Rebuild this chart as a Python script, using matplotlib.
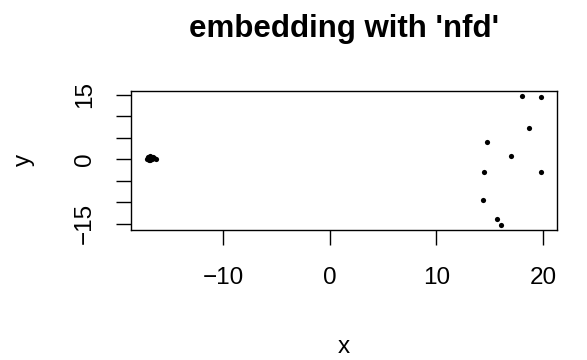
import matplotlib
matplotlib.use("Agg")
from matplotlib import pyplot as plt

# tight cluster on the left
cluster_x = [-17.2, -17.1, -17.0, -16.9, -16.8, -16.9, -16.7, -17.0, -16.6, -16.3, -16.8, -16.5, -17.1, -16.9]
cluster_y = [0.1, 0.3, 0.5, 0.4, 0.2, -0.2, 0.0, -0.1, 0.5, 0.1, 0.6, 0.3, 0.6, 0.8]

# scattered points on the right
spread_x = [18.06, 19.81, 18.69, 14.77, 17.03, 14.43, 19.78, 14.33, 15.68, 16.06]
spread_y = [14.75, 14.45, 7.35, 3.98, 0.63, -3.04, -3.04, -9.44, -13.96, -15.3]

xs = cluster_x + spread_x
ys = cluster_y + spread_y

plt.rcParams['font.family'] = ['Liberation Sans', 'DejaVu Sans']

fig = plt.figure(figsize=(5.87, 3.6), dpi=100)
ax = fig.add_axes([0.2227, 0.3611, 0.7257, 0.3869])
ax.scatter(xs, ys, s=14, c='black', linewidths=0)

# R style 4% padding
def pad(lo, hi):
    d = hi - lo
    return lo - 0.04 * d, hi + 0.04 * d

ax.set_xlim(*pad(min(xs), max(xs)))
ax.set_ylim(*pad(min(ys), max(ys)))

ax.set_xticks([-10, 0, 10, 20])
ax.set_xticklabels(['\u221210', '0', '10', '20'])
ax.set_yticks([-15, -10, -5, 0, 5, 10, 15])
ax.set_yticklabels(['\u221215', '', '', '0', '', '', '15'], rotation=90, va='center')
ax.tick_params(axis='both', length=10.5, width=1.0, labelsize=17.5)
ax.tick_params(axis='x', pad=16)
ax.tick_params(axis='y', pad=14.5)

for sp in ax.spines.values():
    sp.set_linewidth(1.0)

ax.set_title("embedding with 'nfd'", fontsize=22.5, fontweight='bold', pad=38.7)
ax.set_xlabel('x', fontsize=17.5, labelpad=34)
ax.set_ylabel('y', fontsize=17.5, labelpad=28)

fig.savefig('out.png', dpi=100)
